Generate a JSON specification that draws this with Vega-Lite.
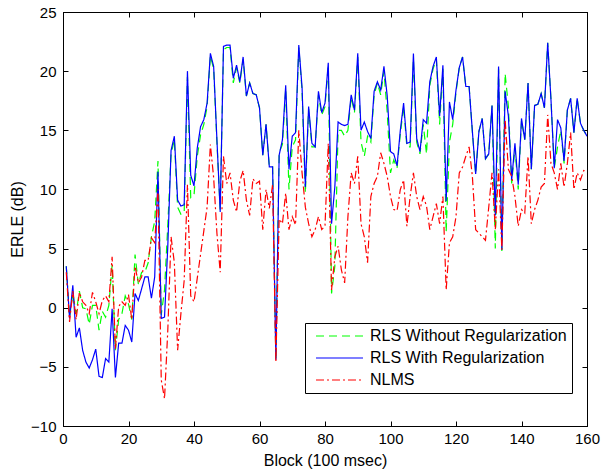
{
  "$schema": "https://vega.github.io/schema/vega-lite/v6.json",
  "width": 524,
  "height": 414,
  "autosize": {"type": "none"},
  "padding": {"left": 63, "top": 12, "right": 15, "bottom": 45},
  "background": "white",
  "config": {
    "font": "Liberation Sans",
    "view": {"stroke": "black", "strokeWidth": 1},
    "axis": {"grid": false, "labelFlush": false, "domainColor": "black", "tickColor": "black", "labelColor": "black", "titleColor": "black", "labelFontSize": 15, "titleFontSize": 16, "titleFontWeight": "normal", "tickSize": -5, "domainWidth": 1, "tickWidth": 1}
  },
  "data": {"values": [
    {"b":1,"g":3.5,"w":3.5,"n":3.0},{"b":2,"g":-0.8,"w":-0.9,"n":-1.2},{"b":3,"g":1.2,"w":1.9,"n":1.4},{"b":4,"g":-0.5,"w":-2.5,"n":-1.0},{"b":5,"g":1.4,"w":-1.7,"n":1.3},
    {"b":6,"g":0.0,"w":-3.6,"n":0.5},{"b":7,"g":-0.1,"w":-4.6,"n":0.2},{"b":8,"g":-1.4,"w":-5.1,"n":-0.5},{"b":9,"g":0.2,"w":-4.4,"n":1.3},{"b":10,"g":0.2,"w":-3.5,"n":0.5},
    {"b":11,"g":-1.9,"w":-5.8,"n":-0.5},{"b":12,"g":-0.3,"w":-5.9,"n":0.6},{"b":13,"g":-0.8,"w":-4.3,"n":1.0},{"b":14,"g":0.2,"w":-4.6,"n":0.5},{"b":15,"g":3.6,"w":-0.1,"n":4.3},
    {"b":16,"g":-3.6,"w":-5.9,"n":-3.5},{"b":17,"g":-1.0,"w":-3.0,"n":0.1},{"b":18,"g":-0.5,"w":-3.0,"n":0.5},{"b":19,"g":1.0,"w":-1.5,"n":0.2},{"b":20,"g":0.3,"w":-1.9,"n":1.1},
    {"b":21,"g":-1.0,"w":-2.9,"n":-1.0},{"b":22,"g":4.5,"w":1.2,"n":3.5},{"b":23,"g":2.0,"w":0.6,"n":2.1},{"b":24,"g":3.0,"w":1.6,"n":2.6},{"b":25,"g":3.0,"w":2.6,"n":4.0},
    {"b":26,"g":3.8,"w":2.6,"n":4.0},{"b":27,"g":6.0,"w":0.8,"n":5.9},{"b":28,"g":7.3,"w":2.6,"n":5.5},{"b":29,"g":12.4,"w":11.5,"n":10.0},{"b":30,"g":-0.6,"w":-0.9,"n":-6.1},
    {"b":31,"g":1.5,"w":-0.8,"n":-7.7},{"b":32,"g":7.0,"w":5.2,"n":-1.9},{"b":33,"g":13.0,"w":13.3,"n":6.0},{"b":34,"g":14.2,"w":14.5,"n":3.8},{"b":35,"g":8.5,"w":9.1,"n":-3.6},
    {"b":36,"g":7.9,"w":8.6,"n":-0.5},{"b":37,"g":8.0,"w":8.7,"n":2.3},{"b":38,"g":19.5,"w":20.0,"n":10.4},{"b":39,"g":9.3,"w":11.2,"n":1.0},{"b":40,"g":9.5,"w":10.3,"n":0.5},
    {"b":41,"g":12.8,"w":13.5,"n":2.5},{"b":42,"g":14.6,"w":15.3,"n":4.5},{"b":43,"g":15.5,"w":15.9,"n":6.5},{"b":44,"g":17.0,"w":17.3,"n":8.5},{"b":45,"g":21.3,"w":21.5,"n":13.8},
    {"b":46,"g":20.2,"w":20.4,"n":11.0},{"b":47,"g":14.0,"w":14.2,"n":6.3},{"b":48,"g":8.3,"w":8.1,"n":3.0},{"b":49,"g":21.8,"w":22.1,"n":12.8},{"b":50,"g":22.0,"w":22.2,"n":10.5},
    {"b":51,"g":22.0,"w":22.2,"n":11.4},{"b":52,"g":19.0,"w":19.4,"n":9.1},{"b":53,"g":20.3,"w":20.5,"n":8.1},{"b":54,"g":19.0,"w":19.1,"n":10.7},{"b":55,"g":21.0,"w":21.2,"n":11.6},
    {"b":56,"g":17.9,"w":17.9,"n":9.1},{"b":57,"g":19.0,"w":19.0,"n":7.8},{"b":58,"g":18.1,"w":18.1,"n":10.9},{"b":59,"g":18.0,"w":18.0,"n":10.5},{"b":60,"g":16.9,"w":16.9,"n":10.7},
    {"b":61,"g":12.9,"w":12.9,"n":6.6},{"b":62,"g":15.5,"w":15.5,"n":10.0},{"b":63,"g":11.9,"w":11.9,"n":8.4},{"b":64,"g":11.9,"w":11.9,"n":10.4},{"b":65,"g":-4.4,"w":-4.4,"n":-4.6},
    {"b":66,"g":13.1,"w":12.9,"n":7.5},{"b":67,"g":13.8,"w":14.2,"n":7.1},{"b":68,"g":18.5,"w":18.8,"n":9.7},{"b":69,"g":10.0,"w":11.7,"n":6.6},{"b":70,"g":13.6,"w":14.5,"n":7.7},
    {"b":71,"g":14.2,"w":14.8,"n":7.0},{"b":72,"g":22.0,"w":22.2,"n":15.0},{"b":73,"g":18.3,"w":18.6,"n":11.4},{"b":74,"g":9.7,"w":10.2,"n":8.5},{"b":75,"g":16.8,"w":17.0,"n":7.1},
    {"b":76,"g":13.6,"w":13.9,"n":6.0},{"b":77,"g":13.6,"w":13.6,"n":6.6},{"b":78,"g":18.0,"w":18.3,"n":7.7},{"b":79,"g":16.3,"w":16.5,"n":6.6},{"b":80,"g":17.0,"w":17.3,"n":6.9},
    {"b":81,"g":20.5,"w":20.7,"n":13.9},{"b":82,"g":1.2,"w":7.1,"n":1.5},{"b":83,"g":3.5,"w":10.2,"n":4.3},{"b":84,"g":15.0,"w":15.7,"n":5.2},{"b":85,"g":15.0,"w":15.5,"n":3.2},
    {"b":86,"g":14.5,"w":15.4,"n":2.1},{"b":87,"g":15.0,"w":15.5,"n":7.7},{"b":88,"g":17.8,"w":18.0,"n":11.4},{"b":89,"g":16.5,"w":16.7,"n":10.5},{"b":90,"g":21.2,"w":21.5,"n":12.8},
    {"b":91,"g":14.0,"w":15.0,"n":7.1},{"b":92,"g":12.8,"w":15.7,"n":6.0},{"b":93,"g":14.5,"w":14.9,"n":3.8},{"b":94,"g":14.0,"w":14.3,"n":9.4},{"b":95,"g":18.0,"w":18.3,"n":10.5},
    {"b":96,"g":19.0,"w":19.1,"n":11.1},{"b":97,"g":18.0,"w":18.4,"n":13.1},{"b":98,"g":20.0,"w":20.4,"n":12.2},{"b":99,"g":16.5,"w":17.9,"n":11.1},{"b":100,"g":11.4,"w":13.2,"n":9.4},
    {"b":101,"g":12.5,"w":13.0,"n":8.3},{"b":102,"g":11.8,"w":12.0,"n":8.2},{"b":103,"g":14.7,"w":15.0,"n":10.0},{"b":104,"g":17.0,"w":17.3,"n":10.8},{"b":105,"g":13.6,"w":13.9,"n":6.9},
    {"b":106,"g":13.6,"w":14.0,"n":9.4},{"b":107,"g":21.0,"w":21.5,"n":11.4},{"b":108,"g":14.0,"w":14.3,"n":9.4},{"b":109,"g":13.0,"w":13.2,"n":8.3},{"b":110,"g":15.5,"w":15.9,"n":9.4},
    {"b":111,"g":13.0,"w":15.6,"n":8.6},{"b":112,"g":18.8,"w":19.1,"n":6.6},{"b":113,"g":20.2,"w":20.4,"n":7.7},{"b":114,"g":21.0,"w":21.2,"n":8.8},{"b":115,"g":15.5,"w":16.2,"n":7.1},
    {"b":116,"g":20.2,"w":20.5,"n":9.4},{"b":117,"g":6.4,"w":9.0,"n":1.5},{"b":118,"g":14.0,"w":17.4,"n":5.5},{"b":119,"g":15.5,"w":15.9,"n":6.0},{"b":120,"g":18.2,"w":18.4,"n":7.7},
    {"b":121,"g":20.3,"w":20.3,"n":11.4},{"b":122,"g":21.2,"w":21.2,"n":11.9},{"b":123,"g":18.7,"w":18.7,"n":12.8},{"b":124,"g":18.7,"w":18.7,"n":13.6},{"b":125,"g":14.9,"w":14.9,"n":11.1},
    {"b":126,"g":11.3,"w":11.3,"n":6.6},{"b":127,"g":14.9,"w":14.9,"n":6.3},{"b":128,"g":16.0,"w":16.0,"n":6.0},{"b":129,"g":12.6,"w":12.6,"n":5.7},{"b":130,"g":13.0,"w":13.0,"n":8.5},
    {"b":131,"g":17.1,"w":17.1,"n":11.4},{"b":132,"g":5.0,"w":7.8,"n":6.6},{"b":133,"g":20.2,"w":20.4,"n":11.7},{"b":134,"g":4.8,"w":4.9,"n":4.9},{"b":135,"g":19.8,"w":18.3,"n":15.9},
    {"b":136,"g":17.0,"w":16.2,"n":11.7},{"b":137,"g":10.5,"w":10.8,"n":11.1},{"b":138,"g":13.5,"w":13.9,"n":9.4},{"b":139,"g":10.0,"w":10.4,"n":6.9},{"b":140,"g":15.8,"w":16.0,"n":8.3},
    {"b":141,"g":14.2,"w":14.2,"n":8.0},{"b":142,"g":19.0,"w":19.0,"n":12.8},{"b":143,"g":11.7,"w":11.7,"n":7.1},{"b":144,"g":17.1,"w":17.1,"n":8.3},{"b":145,"g":17.2,"w":17.2,"n":9.1},
    {"b":146,"g":18.1,"w":18.1,"n":10.2},{"b":147,"g":16.9,"w":16.9,"n":10.5},{"b":148,"g":22.4,"w":22.4,"n":16.3},{"b":149,"g":17.6,"w":17.6,"n":12.2},{"b":150,"g":11.8,"w":11.8,"n":11.4},
    {"b":151,"g":13.6,"w":15.9,"n":10.0},{"b":152,"g":15.0,"w":15.2,"n":12.2},{"b":153,"g":12.2,"w":12.4,"n":10.2},{"b":154,"g":16.7,"w":16.7,"n":12.2},{"b":155,"g":17.7,"w":17.7,"n":14.8},
    {"b":156,"g":14.8,"w":14.8,"n":10.0},{"b":157,"g":17.7,"w":17.7,"n":11.4},{"b":158,"g":15.6,"w":15.6,"n":10.8},{"b":159,"g":15.0,"w":15.0,"n":11.6},{"b":160,"g":14.5,"w":14.5,"n":11.5}
  ]},
  "transform": [{"fold": ["g", "w", "n"], "as": ["s", "v"]}],
  "resolve": {"axis": {"x": "independent", "y": "independent"}},
  "layer": [
    {
      "mark": {"type": "line", "strokeWidth": 1.2, "clip": true},
      "encoding": {
        "x": {"field": "b", "type": "quantitative", "scale": {"domain": [0, 160], "nice": false}, "axis": {"values": [0,20,40,60,80,100,120,140,160], "title": "Block (100 msec)", "labelPadding": 10, "titlePadding": 6}},
        "y": {"field": "v", "type": "quantitative", "scale": {"domain": [-10, 25], "nice": false, "zero": false}, "axis": {"values": [-10,-5,0,5,10,15,20,25], "title": "ERLE (dB)", "labelPadding": 12, "titlePadding": 5}},
        "color": {"field": "s", "type": "nominal", "scale": {"domain": ["g", "w", "n"], "range": ["#00ff00", "#0000ff", "#ff0000"]},
          "legend": {"title": null, "orient": "none", "legendX": 242, "legendY": 311, "direction": "vertical", "symbolType": "stroke", "symbolSize": 2209, "clipHeight": 16, "symbolStrokeWidth": 1.2, "labelFontSize": 16, "labelColor": "black", "labelLimit": 0, "labelOffset": 6, "padding": 5, "symbolOffset": 5, "rowPadding": 6, "strokeColor": "black", "fillColor": "white", "labelExpr": "datum.label == 'g' ? 'RLS Without Regularization' : datum.label == 'w' ? 'RLS With Regularization' : 'NLMS'"}},
        "strokeDash": {"field": "s", "type": "nominal", "scale": {"domain": ["g", "w", "n"], "range": [[8, 5], [1, 0], [8, 3, 2, 3]]},
          "legend": {"title": null, "orient": "none", "legendX": 242, "legendY": 311, "direction": "vertical", "symbolType": "stroke", "symbolSize": 2209, "clipHeight": 16, "symbolStrokeWidth": 1.2, "labelFontSize": 16, "labelColor": "black", "labelLimit": 0, "labelOffset": 6, "padding": 5, "symbolOffset": 5, "rowPadding": 6, "strokeColor": "black", "fillColor": "white", "labelExpr": "datum.label == 'g' ? 'RLS Without Regularization' : datum.label == 'w' ? 'RLS With Regularization' : 'NLMS'"}}
      }
    },
    {
      "mark": {"type": "line", "opacity": 0},
      "encoding": {
        "x": {"field": "b", "type": "quantitative", "scale": {"domain": [0, 160], "nice": false}, "axis": {"orient": "top", "values": [0,20,40,60,80,100,120,140,160], "labels": false, "title": null}},
        "y": {"field": "v", "type": "quantitative", "scale": {"domain": [-10, 25], "nice": false, "zero": false}, "axis": {"orient": "right", "values": [-10,-5,0,5,10,15,20,25], "labels": false, "title": null}},
        "detail": {"field": "s"}
      }
    }
  ]
}
